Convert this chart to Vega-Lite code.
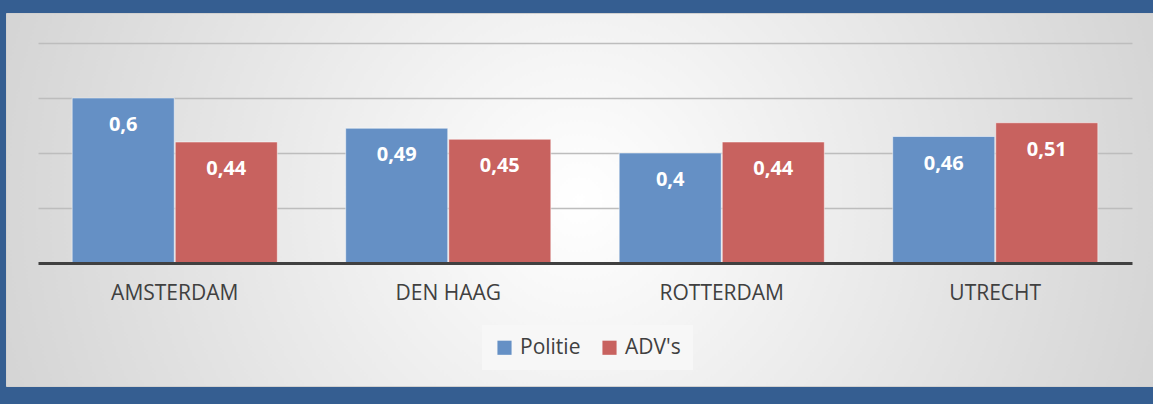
{
  "$schema": "https://vega.github.io/schema/vega-lite/v6.json",
  "width": 1170,
  "height": 373,
  "padding": {"left": 6, "top": 13, "right": 0, "bottom": 18},
  "autosize": {"type": "none"},
  "background": "#355E91",
  "view": {
    "stroke": "#d0d0d0",
    "strokeWidth": 1,
    "fill": {
      "gradient": "radial",
      "x1": 0.49, "y1": 0.5, "r1": 0,
      "x2": 0.49, "y2": 0.5, "r2": 0.71,
      "stops": [
        {"offset": 0, "color": "#ffffff"},
        {"offset": 1, "color": "#c4c4c4"}
      ]
    }
  },
  "config": {
    "font": "Open Sans",
    "locale": {"number": {"decimal": ",", "thousands": ".", "grouping": [3], "currency": ["€ ", ""]}}
  },
  "data": {
    "values": [
      {"city": "AMSTERDAM", "group": "Politie", "value": 0.6},
      {"city": "AMSTERDAM", "group": "ADV's", "value": 0.44},
      {"city": "DEN HAAG", "group": "Politie", "value": 0.49},
      {"city": "DEN HAAG", "group": "ADV's", "value": 0.45},
      {"city": "ROTTERDAM", "group": "Politie", "value": 0.4},
      {"city": "ROTTERDAM", "group": "ADV's", "value": 0.44},
      {"city": "UTRECHT", "group": "Politie", "value": 0.46},
      {"city": "UTRECHT", "group": "ADV's", "value": 0.51}
    ]
  },
  "encoding": {
    "x": {
      "field": "city", "type": "nominal", "sort": null,
      "scale": {"range": [32, 1126], "paddingInner": 0.25, "paddingOuter": 0.125},
      "axis": {
        "title": null, "orient": "bottom", "offset": -123, "labelAngle": 0,
        "ticks": false, "domainColor": "#404040", "domainWidth": 3,
        "labelFontSize": 21, "labelColor": "#404040", "labelPadding": 19,
        "grid": false, "zindex": 1
      }
    },
    "xOffset": {"field": "group", "type": "nominal", "sort": ["Politie", "ADV's"], "scale": {"paddingInner": 0.01}},
    "y": {
      "field": "value", "type": "quantitative",
      "scale": {"domain": [-0.44727, 0.90909], "nice": false, "zero": false},
      "axis": {
        "title": null, "labels": false, "ticks": false, "domain": false,
        "grid": true, "values": [0.2, 0.4, 0.6, 0.8], "gridColor": "#bdbdbd", "gridWidth": 1.5
      }
    }
  },
  "layer": [
    {
      "mark": {"type": "bar", "stroke": "#ffffff", "strokeOpacity": 0.5, "strokeWidth": 1},
      "encoding": {
        "color": {
          "field": "group", "type": "nominal",
          "scale": {"domain": ["Politie", "ADV's"], "range": ["#6590C5", "#C8625F"]},
          "legend": {
            "title": null, "orient": "none", "direction": "horizontal",
            "legendX": 476, "legendY": 312,
            "fillColor": "#f7f7f7", "padding": 12,
            "symbolType": "square", "symbolSize": 200, "symbolStrokeWidth": 0,
            "labelFontSize": 21, "labelColor": "#404040", "columnPadding": 18, "labelOffset": 5
          }
        }
      }
    },
    {
      "mark": {"type": "text", "dy": 27, "color": "#ffffff", "fontWeight": "bold", "fontSize": 20, "baseline": "middle"},
      "encoding": {
        "text": {"field": "value", "type": "quantitative", "format": ".2~f"}
      }
    }
  ]
}
